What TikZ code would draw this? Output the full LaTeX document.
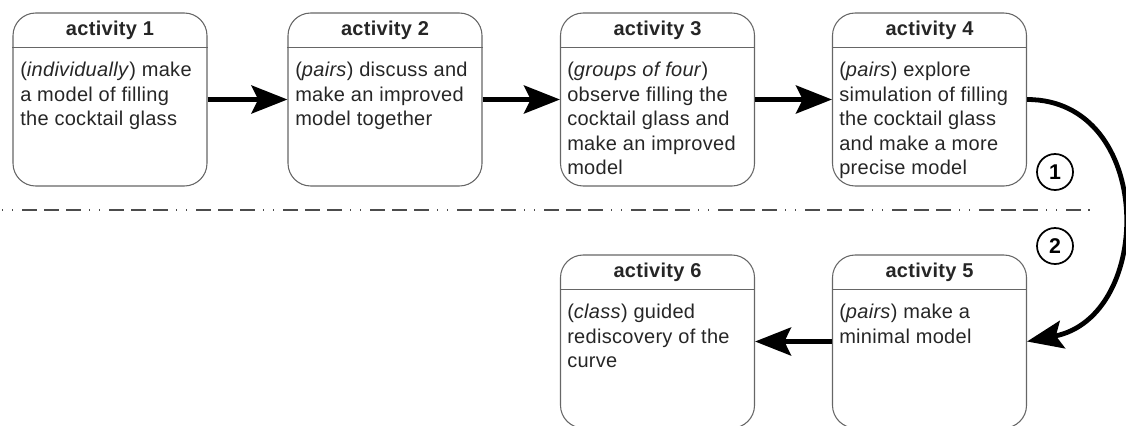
\documentclass[tikz,border=0pt]{standalone}
\usepackage{fontspec}
\setmainfont[LetterSpace=1.5]{Liberation Sans}
\usetikzlibrary{arrows.meta}

\tikzset{
  actbox/.style={draw=black!60, line width=0.8pt, rounded corners=17pt,
    minimum width=145.5pt, minimum height=129.75pt},
  acttitle/.style={font=\fontsize{15}{18}\selectfont\bfseries, text=black!85},
  actbody/.style={anchor=north west, inner sep=0pt, align=left,
    font=\fontsize{15}{18.4}\selectfont, text=black!85},
  divider/.style={draw=black!60, line width=0.8pt},
  flow/.style={line width=3.6pt, -{Stealth[length=27pt, width=21pt, inset=5pt]}},
  phase/.style={circle, draw, line width=1.3pt, minimum size=27pt, inner sep=0pt,
    font=\fontsize{16}{18}\selectfont\bfseries},
  phaseline/.style={draw=black!70, line width=1.1pt,
    dash pattern=on 1.1pt off 6.4pt on 1.1pt off 6.4pt on 11.25pt off 5.25pt on 11.25pt off 5.25pt on 11.25pt off 6pt}
}

\begin{document}
\begin{tikzpicture}[x=0.75pt, y=-0.75pt]
  \useasboundingbox (0,0) rectangle (1126,425);
  % boxes
  \node [actbox] (act1) at (110, 99.5) {};
  \node [actbox] (act2) at (385, 99.5) {};
  \node [actbox] (act3) at (657.5, 99.5) {};
  \node [actbox] (act4) at (929.5, 99.5) {};
  \node [actbox] (act5) at (929.5, 341.5) {};
  \node [actbox] (act6) at (657.5, 341.5) {};
  % titles
  \node [acttitle] (title1) at (110, 30) {activity 1};
  \node [acttitle] (title2) at (385, 30) {activity 2};
  \node [acttitle] (title3) at (657.5, 30) {activity 3};
  \node [acttitle] (title4) at (929.5, 30) {activity 4};
  \node [acttitle] (title5) at (929.5, 272) {activity 5};
  \node [acttitle] (title6) at (657.5, 272) {activity 6};
  % dividers
  \foreach \n in {1,...,6}
    \draw [divider] ([yshift=-26.25pt]act\n.north west) -- ([yshift=-26.25pt]act\n.north east);
  % texts
  \node [actbody] (text1) at (20, 62) {(\textit{individually}) make\\a model of filling\\the cocktail glass};
  \node [actbody] (text2) at (295, 62) {(\textit{pairs}) discuss and\\make an improved\\model together};
  \node [actbody] (text3) at (567, 62) {(\textit{groups of four})\\observe filling the\\cocktail glass and\\make an improved\\model};
  \node [actbody] (text4) at (839, 62) {(\textit{pairs}) explore\\simulation of filling\\the cocktail glass\\and make a more\\precise model};
  \node [actbody] (text5) at (839, 304) {(\textit{pairs}) make a\\minimal model};
  \node [actbody] (text6) at (567, 304) {(\textit{class}) guided\\rediscovery of the\\curve};
  % phases
  \node [phase] (one) at (1055, 172) {1};
  \node [phase] (two) at (1055, 246) {2};
  \coordinate (sepL) at (2, 210);
  \coordinate (sepR) at (1090, 210);
  \draw [phaseline] (sepL) -- (sepR);
  % edges
  \draw [flow] (act1) -- (act2);
  \draw [flow] (act2) -- (act3);
  \draw [flow] (act3) -- (act4);
  \draw [flow] (act4.east) .. controls +(128,0) and +(128,-25) .. (act5.east);
  \draw [flow] (act5) -- (act6);
\end{tikzpicture}
\end{document}
